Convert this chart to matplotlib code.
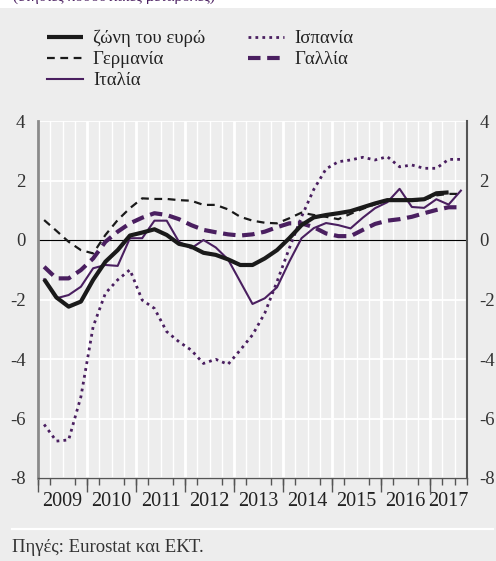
import matplotlib
matplotlib.use("Agg")
import matplotlib.pyplot as plt
import numpy as np

plt.rcParams['font.family'] = ['Liberation Serif', 'DejaVu Serif']

# quarterly data, 2009Q1 .. 2017Q3
start_year = 2009
euro_area = [-1.32, -1.93, -2.24, -2.07, -1.34, -0.73, -0.34, 0.15, 0.25, 0.36,
             0.17, -0.13, -0.22, -0.43, -0.50, -0.65, -0.84, -0.84, -0.62, -0.34,
             0.06, 0.50, 0.76, 0.84, 0.90, 0.97, 1.10, 1.23, 1.34, 1.34,
             1.34, 1.37, 1.57, 1.60]
germany = [0.67, 0.31, -0.06, -0.34, -0.45, 0.17, 0.67, 1.07, 1.40, 1.38,
           1.38, 1.34, 1.32, 1.18, 1.18, 1.03, 0.78, 0.65, 0.58, 0.56,
           0.73, 0.92, 0.84, 0.78, 0.70, 0.88, 1.05, 1.20, 1.32, 1.35,
           1.32, 1.35, 1.50, 1.55, 1.55]
italy = [-1.32, -1.96, -1.85, -1.57, -0.95, -0.84, -0.87, 0.06, 0.06, 0.65,
         0.65, -0.06, -0.28, 0.00, -0.25, -0.65, -1.40, -2.15, -1.96, -1.59,
         -0.73, 0.06, 0.40, 0.57, 0.50, 0.39, 0.75, 1.07, 1.27, 1.72,
         1.11, 1.08, 1.37, 1.19, 1.66]
spain = [-6.20, -6.76, -6.72, -5.27, -2.91, -1.79, -1.34, -1.00, -2.02, -2.30,
         -3.08, -3.42, -3.70, -4.15, -4.01, -4.18, -3.70, -3.19, -2.46, -1.40,
         -0.28, 0.78, 1.70, 2.39, 2.63, 2.69, 2.78, 2.69, 2.80, 2.46,
         2.52, 2.41, 2.41, 2.71, 2.71]
france = [-0.90, -1.29, -1.29, -1.01, -0.62, -0.06, 0.28, 0.56, 0.75, 0.90,
          0.84, 0.70, 0.50, 0.34, 0.26, 0.19, 0.15, 0.19, 0.28, 0.43,
          0.56, 0.56, 0.43, 0.22, 0.13, 0.13, 0.34, 0.54, 0.65, 0.70,
          0.78, 0.90, 1.01, 1.10, 1.10]
years = list(range(2009, 2018))
y_ticks = [-8, -6, -4, -2, 0, 2, 4]

bg = '#ededed'
purple = '#4a1f60'


def qx(series):
    return start_year + (np.arange(len(series)) + 0.5) / 4


W, H = 496, 561
fig = plt.figure(figsize=(W / 100, H / 100), dpi=100, facecolor='white')

# grey panel and separator
fig.patches.append(plt.Rectangle((0, 0), 1, (H - 8) / H, transform=fig.transFigure,
                                 facecolor=bg, edgecolor='none', zorder=-10))
fig.add_artist(plt.Line2D([12 / W, 493 / W], [1 - 529 / H, 1 - 529 / H],
                          color='white', lw=1.6))
fig.text(13 / W, 1 - 0.5 / H, "(ετήσιες ποσοστιαίες μεταβολές)", color=purple,
         fontsize=11, va='baseline', ha='left')
fig.text(12 / W, 1 - 547 / H, "Πηγές: Eurostat και ΕΚΤ.", color='#333333',
         fontsize=13.5, va='center', ha='left')

ax = fig.add_axes([38 / W, 1 - 478 / H, (467 - 38) / W, (478 - 121) / H])
ax.set_facecolor(bg)
x_end = 2017.75
ax.set_xlim(start_year, x_end)
ax.set_ylim(-8, 4)

# grid
for b in np.arange(start_year, x_end + 0.01, 0.25):
    ax.axvline(b, color='white', lw=2.0 if b == int(b) else 1.0, zorder=0)
for y in y_ticks:
    if y != 0:
        ax.axhline(y, color='white', lw=1.3, zorder=0)
ax.axhline(0, color='black', lw=0.8, zorder=1)

ax.plot(qx(spain), spain, color=purple, lw=2.0, linestyle=(0, (1, 1.5)),
        label='Ισπανία', zorder=3)
ax.plot(qx(germany), germany, color='#1a1a1a', lw=1.6, linestyle=(0, (3.5, 2.5)),
        label='Γερμανία', zorder=4)
ax.plot(qx(france), france, color=purple, lw=3.0, linestyle=(0, (3, 1.6)),
        label='Γαλλία', zorder=4)
ax.plot(qx(italy), italy, color=purple, lw=1.5, label='Ιταλία', zorder=5)
ax.plot(qx(euro_area), euro_area, color='#1a1a1a', lw=3.0, label='ζώνη του ευρώ',
        zorder=6, solid_capstyle='butt')

# axes styling
ax.spines['top'].set_visible(False)
ax.spines['left'].set_color('#8a8a8a')
ax.spines['left'].set_linewidth(2)
ax.spines['right'].set_color('#555555')
ax.spines['right'].set_linewidth(1.5)
ax.spines['bottom'].set_color('#555555')
ax.spines['bottom'].set_linewidth(1)

ax.set_yticks(y_ticks)
ax.set_yticklabels([str(v) for v in y_ticks])
ax.tick_params(axis='y', length=0, labelsize=13.5, labelcolor='#333333',
               labelleft=True, labelright=True, pad=9)

ax.set_xticks([y + (min(x_end, y + 1) - y) / 2 for y in years])
ax.set_xticklabels([str(y) for y in years])
ax.tick_params(axis='x', which='major', length=0, labelsize=14.5,
               labelcolor='#222222', pad=10)
ax.set_xticks(np.arange(start_year, x_end + 0.01, 0.25), minor=True)
ax.tick_params(axis='x', which='minor', length=5, width=1, color='#555555',
               direction='out')
sec = ax.secondary_xaxis('bottom')
sec.set_xticks(years)
sec.set_xticklabels([])
sec.tick_params(length=10, width=1, color='#555555')
sec.spines['bottom'].set_visible(False)

# legend
h, l = ax.get_legend_handles_labels()
order = ['ζώνη του ευρώ', 'Γερμανία', 'Ιταλία', 'Ισπανία', 'Γαλλία']
hs = [h[l.index(o)] for o in order]
leg = fig.legend(hs, order, loc='upper left', bbox_to_anchor=(47 / W, 1 - 30 / H),
                 ncol=2, frameon=False, fontsize=13.5, handlelength=1.9,
                 handletextpad=0.55, columnspacing=2.3, labelspacing=0.2,
                 borderpad=0, borderaxespad=0)
for t in leg.get_texts():
    t.set_color('#222222')

fig.savefig('out.png', dpi=100, facecolor='white')
